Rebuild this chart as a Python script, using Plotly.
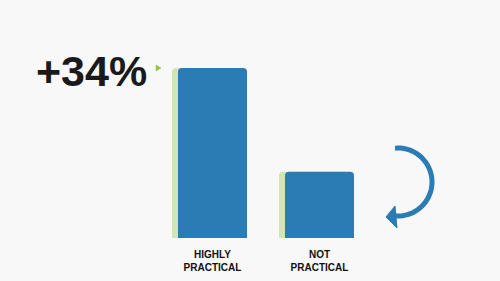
import numpy as np
import plotly.graph_objects as go

# Survey shares (index, highly practical = 100)
categories = ["HIGHLY<br>PRACTICAL", "NOT<br>PRACTICAL"]
current_values = [100, 39]
previous_values = [100, 39]
headline = "+34%"

W, H = 500, 281
BLUE = "#2b7bb4"
GREEN = "#cfe6b5"
BG = "#f8f8f8"

x_pos = np.arange(len(categories))
bar_w = 0.645
shift = 0.056

fig = go.Figure()
# light green shadow bars, nudged left
fig.add_trace(go.Bar(
    x=x_pos, y=previous_values, width=bar_w, offset=-bar_w / 2 - shift,
    marker=dict(color=GREEN, cornerradius=4, line=dict(width=0)),
    hoverinfo="skip",
))
# main blue bars
fig.add_trace(go.Bar(
    x=x_pos, y=current_values, width=bar_w, offset=-bar_w / 2,
    marker=dict(color=BLUE, cornerradius=4, line=dict(width=0)),
))


def px(x, y):
    """pixel position -> paper coordinates"""
    return x / W, 1 - y / H


# curved arrow: arc around a centre, ending in a left-pointing head
cx, cy, r = 398, 182, 34
angles = np.linspace(np.deg2rad(95), np.deg2rad(-97), 40)
pts = [px(cx + r * np.cos(a), cy - r * np.sin(a)) for a in angles]
arc = "M " + " L ".join(f"{a:.4f},{b:.4f}" for a, b in pts)
head = [px(386, 217), px(395, 206), px(397, 228)]
head_path = "M " + " L ".join(f"{a:.4f},{b:.4f}" for a, b in head) + " Z"
tri = [px(156, 65), px(161, 68), px(156, 71)]
tri_path = "M " + " L ".join(f"{a:.4f},{b:.4f}" for a, b in tri) + " Z"

shapes = [
    dict(type="path", xref="paper", yref="paper", path=arc,
         line=dict(color=BLUE, width=5), fillcolor="rgba(0,0,0,0)"),
    dict(type="path", xref="paper", yref="paper", path=head_path,
         line=dict(color=BLUE, width=1), fillcolor=BLUE),
    dict(type="path", xref="paper", yref="paper", path=tri_path,
         line=dict(color="#8cc63f", width=0.5), fillcolor="#8cc63f"),
]

# axis ranges so that category spacing is 107px and bar 1 centre sits at 212px
unit = 107
x0 = -212.5 / unit
x1 = x0 + W / unit
bottom_frac = (H - 238) / H
y_max = current_values[0] * 238 / 170

fig.update_layout(
    width=W, height=H,
    margin=dict(l=0, r=0, t=0, b=0),
    paper_bgcolor=BG, plot_bgcolor=BG,
    barmode="overlay", showlegend=False,
    shapes=shapes,
    xaxis=dict(range=[x0, x1], tickvals=list(x_pos),
               ticktext=[f"<b>{c}</b>" for c in categories],
               showgrid=False, zeroline=False, showline=False, ticks="",
               tickfont=dict(family="Liberation Sans", size=10, color="#111111"),
               ticklabelstandoff=9),
    yaxis=dict(range=[0, y_max], domain=[bottom_frac, 1], visible=False),
    annotations=[dict(
        text=f"<b>{headline}</b>", xref="paper", yref="paper",
        x=34 / W, y=1 - 71 / H, xanchor="left", yanchor="middle",
        showarrow=False,
        font=dict(family="Liberation Sans", size=43, color="#1a1a1a"),
    )],
)

fig.write_html("out.html")
